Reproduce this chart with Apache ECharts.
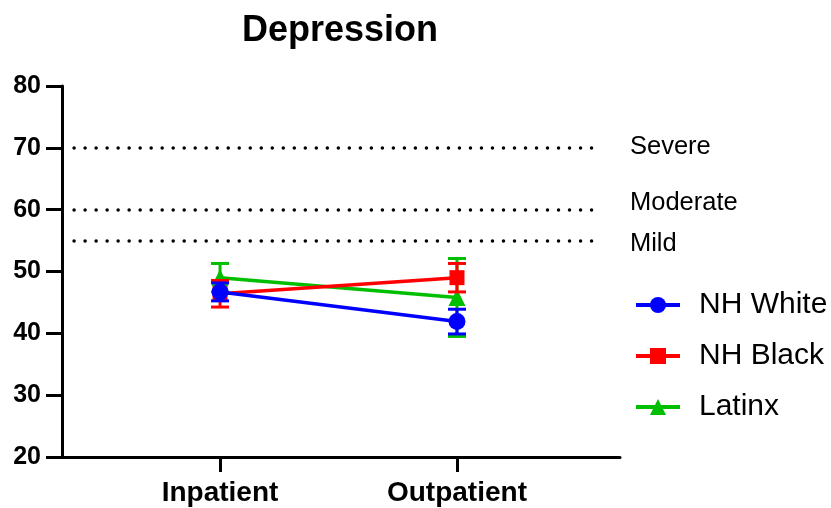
<!DOCTYPE html>
<html><head><meta charset="utf-8">
<script src="https://cdn.jsdelivr.net/npm/echarts@6/dist/echarts.min.js"></script>
<style>html,body{margin:0;padding:0;background:#fff}#c{width:831px;height:508px}</style>
</head><body><div id="c"></div>
<script>
const categories = ['Inpatient', 'Outpatient'];
const seriesNames = ['NH White', 'NH Black', 'Latinx'];
const whiteMean = [46.7, 41.9];
const whiteErr = [1.45, 2.0];
const blackMean = [46.4, 49.0];
const blackErr = [2.15, 2.3];
const latinxMean = [49.0, 45.8];
const latinxErr = [2.3, 6.3];
const thresholds = [70, 60, 55];
const thresholdLabels = ['Severe', 'Moderate', 'Mild'];

const FONT = 'Liberation Sans, Arial, sans-serif';
const colors = ['#0000FF', '#FF0000', '#00BF00'];
const symbols = ['circle', 'rect', 'triangle'];
const symbolSizes = [17, 15, 17];
const means = [whiteMean, blackMean, latinxMean];
const errs = [whiteErr, blackErr, latinxErr];

const chart = echarts.init(document.getElementById('c'), null, {renderer: 'canvas'});

function errSeries(idx) {
  const col = colors[idx];
  return {
    type: 'custom',
    silent: true,
    z: 2 + (2 - idx) * 2,
    data: categories.map((c, i) => [i, means[idx][i] - errs[idx][i], means[idx][i] + errs[idx][i]]),
    renderItem: function (params, api) {
      const x = api.value(0);
      const top = api.coord([x, api.value(2)]);
      const bot = api.coord([x, api.value(1)]);
      const hw = 9;
      const style = {stroke: col, lineWidth: 3, fill: null};
      return {type: 'group', children: [
        {type: 'line', shape: {x1: top[0], y1: top[1], x2: bot[0], y2: bot[1]}, style: style},
        {type: 'line', shape: {x1: top[0] - hw, y1: top[1], x2: top[0] + hw, y2: top[1]}, style: style},
        {type: 'line', shape: {x1: bot[0] - hw, y1: bot[1], x2: bot[0] + hw, y2: bot[1]}, style: style}
      ]};
    }
  };
}

// label text with a spacer line to nudge the label up (spacer below) or down (spacer above)
function thresholdText(name) {
  if (name === 'Moderate') return '{t|' + name + '}\n{g|\u00a0}';
  if (name === 'Mild') return '{h|\u00a0}\n{t|' + name + '}';
  return '{t|' + name + '}\n{k|\u00a0}';
}

function lineSeries(idx) {
  const s = {
    name: seriesNames[idx],
    type: 'line',
    z: 3 + (2 - idx) * 2,
    data: categories.map((c, i) => [i, means[idx][i]]),
    symbol: symbols[idx],
    symbolSize: symbolSizes[idx],
    showAllSymbol: true,
    color: colors[idx],
    itemStyle: {color: colors[idx]},
    lineStyle: {color: colors[idx], width: 3.5},
    emphasis: {disabled: true}
  };
  if (idx === 0) {
    s.markLine = {
      silent: true,
      symbol: 'none',
      animation: false,
      lineStyle: {color: '#000', width: 3.5, type: [0.01, 11], cap: 'round'},
      label: {
        show: true, position: 'end', distance: 32, color: '#000', fontSize: 25.5, fontFamily: FONT,
        formatter: p => thresholdText(p.name),
        rich: {
          t: {fontSize: 25.5, lineHeight: 28, fontFamily: FONT, color: '#000'},
          g: {fontSize: 4, lineHeight: 14},
          h: {fontSize: 4, lineHeight: 6},
          k: {fontSize: 4, lineHeight: 2}
        }
      },
      data: thresholds.map((t, k) => [
        {name: thresholdLabels[k], coord: [-0.616, t]},
        {coord: [1.595, t]}
      ])
    };
  }
  return s;
}

const series = [];
[2, 1, 0].forEach(i => { series.push(errSeries(i)); series.push(lineSeries(i)); });

chart.setOption({
  animation: false,
  backgroundColor: '#fff',
  title: {
    text: 'Depression', left: 242, top: 13, padding: 0,
    textStyle: {fontSize: 36, fontWeight: 'bold', color: '#000', fontFamily: FONT}
  },
  legend: {
    data: seriesNames,
    orient: 'vertical',
    left: 634, top: 290, padding: 0,
    itemWidth: 44, itemHeight: 20, itemGap: 21,
    lineStyle: {width: 4},
    textStyle: {fontSize: 30, color: '#000', fontFamily: FONT, padding: [0, 0, 0, 14]}
  },
  grid: {left: 62, right: 211, top: 86, bottom: 51, containLabel: false},
  xAxis: {
    type: 'value', min: -0.667, max: 1.688,
    axisLine: {onZero: false, lineStyle: {color: '#000', width: 3}},
    axisTick: {show: true, customValues: [0, 1], length: 15, lineStyle: {color: '#000', width: 3}},
    axisLabel: {customValues: [0, 1], formatter: v => categories[Math.round(v)], fontSize: 28, fontWeight: 'bold', color: '#000', fontFamily: FONT, margin: 22},
    splitLine: {show: false}
  },
  yAxis: {
    type: 'value', min: 20, max: 80, interval: 10,
    axisLine: {show: true, onZero: false, lineStyle: {color: '#000', width: 3}},
    axisTick: {show: true, length: 16, lineStyle: {color: '#000', width: 3}},
    axisLabel: {fontSize: 25, fontWeight: 'bold', color: '#000', fontFamily: FONT, margin: 21},
    splitLine: {show: false}
  },
  series: series
});
</script>
</body></html>
